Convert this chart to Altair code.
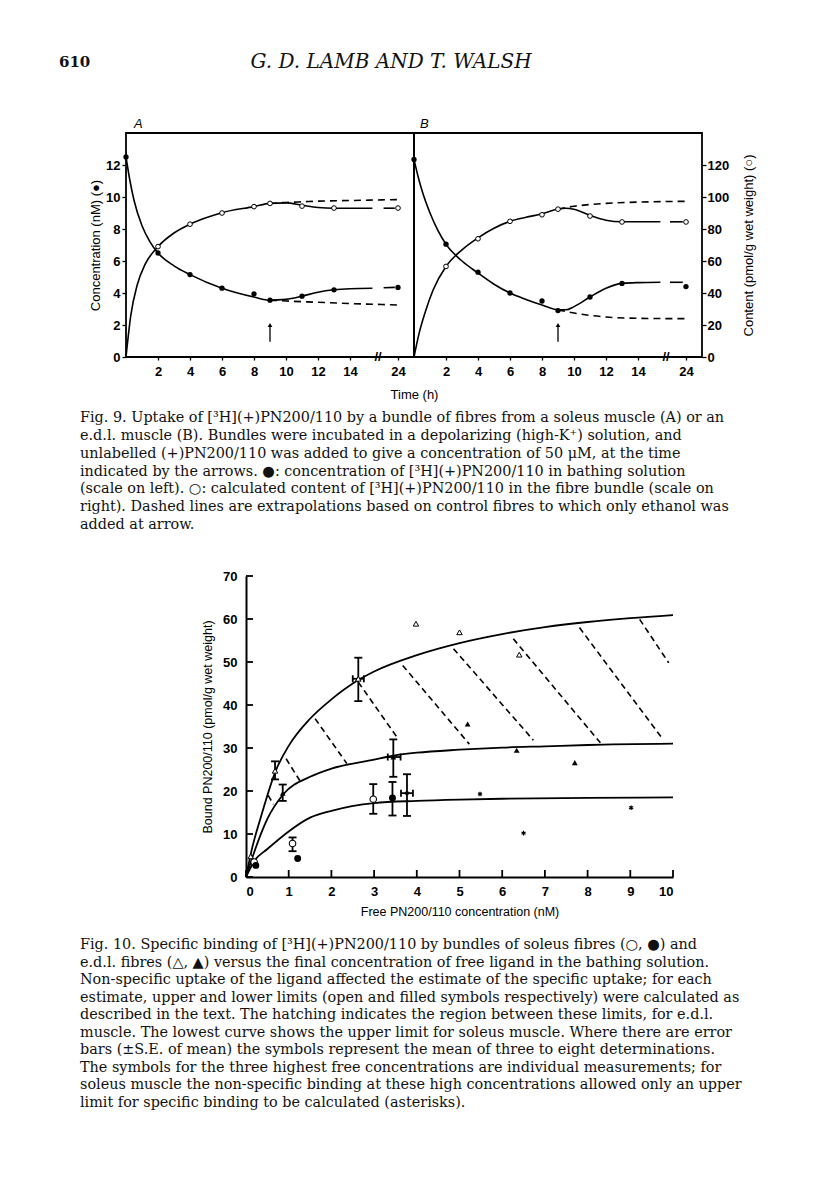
import altair as alt
import pandas as pd

SANS = "Liberation Sans"
SERIF = "DejaVu Serif"
INK = "#111111"

# ---------------- Fig. 9 data (time axis is broken: 24 h drawn at position 17) ----------------
POS_24 = 17
BREAK_POS = 15.75
T_FILLED = [0, 2, 4, 6, 8, 9, 11, 13, 24]
T_OPEN = [2, 4, 6, 8, 9, 11, 13, 24]
A_CONC = [12.5, 6.5, 5.15, 4.3, 3.95, 3.55, 3.8, 4.2, 4.35]      # nM (filled)
A_CONT = [69, 83, 90, 94, 96, 94.3, 93.1, 93.1]                 # pmol/g (open)
B_CONC = [12.35, 7.05, 5.3, 4.0, 3.5, 2.9, 3.75, 4.6, 4.4]
B_CONT = [56.6, 73.9, 84.8, 88.9, 92.4, 88.1, 84.4, 84.4]

# smooth curves (axis position, value)
A_CONC_CURVE_U = [0, 0.25, 0.5, 1, 1.5, 2, 3, 4, 6, 8, 9, 10, 11, 12, 13, 14, 15.4]
A_CONC_CURVE_V = [12.5, 11.0, 9.8, 8.2, 7.2, 6.5, 5.7, 5.15, 4.3, 3.75, 3.55, 3.6, 3.8, 4.05, 4.2, 4.27, 4.3]
A_CONC_TAIL_U = [16.1, 16.8]
A_CONC_TAIL_V = [4.33, 4.35]
A_CONT_CURVE_U = [0, 0.3, 0.7, 1.2, 2, 3, 4, 5, 6, 8, 9, 10, 11, 12, 13, 14, 15.4]
A_CONT_CURVE_V = [0, 26, 45, 58, 69, 77.5, 83, 87, 90.2, 94, 96, 96.3, 94.8, 93.4, 93, 93, 93]
A_CONT_TAIL_U = [16.1, 16.8]
A_CONT_TAIL_V = [93, 93]
A_CONC_DASH_U = [9, 10, 12, 14, 16, 17]
A_CONC_DASH_V = [3.55, 3.5, 3.42, 3.34, 3.28, 3.25]
A_CONT_DASH_U = [9, 10, 11, 12, 14, 16, 17]
A_CONT_DASH_V = [96, 96.6, 97, 97.4, 97.8, 98.2, 98.4]

B_CONC_CURVE_U = [0, 0.25, 0.5, 1, 1.5, 2, 3, 4, 5, 6, 7, 8, 9, 9.5, 10, 11, 12, 13, 14, 15.4]
B_CONC_CURVE_V = [12.35, 11.3, 10.4, 9.0, 7.9, 7.05, 6.0, 5.25, 4.55, 4.0, 3.6, 3.25, 2.95, 2.95, 3.15, 3.75, 4.3, 4.6, 4.65, 4.67]
B_CONC_TAIL_U = [16.0, 16.8]
B_CONC_TAIL_V = [4.67, 4.67]
B_CONT_CURVE_U = [0, 0.3, 0.7, 1.2, 2, 3, 4, 5, 6, 7, 8, 9, 9.5, 10, 11, 12, 13, 14, 15.4]
B_CONT_CURVE_V = [0, 14, 28, 42, 56.6, 67, 74.5, 80.5, 84.8, 87.3, 89.5, 92.5, 93, 92.3, 88.5, 85.5, 84.5, 84.5, 84.5]
B_CONT_TAIL_U = [16.0, 16.8]
B_CONT_TAIL_V = [84.5, 84.5]
B_CONC_DASH_U = [9, 10, 11, 12, 14, 16, 17]
B_CONC_DASH_V = [2.95, 2.75, 2.6, 2.5, 2.42, 2.4, 2.4]
B_CONT_DASH_U = [9, 10, 11, 12, 14, 16, 17]
B_CONT_DASH_V = [92.5, 94.2, 95.3, 96.0, 96.8, 97.2, 97.3]

ARROW_T = 9
ARROW_LO = 0.95
ARROW_HI = 2.0
TIME_TICKS = [2, 4, 6, 8, 10, 12, 14, 17]
CONC_TICKS = [0, 2, 4, 6, 8, 10, 12]
CONT_TICKS = [0, 20, 40, 60, 80, 100, 120]

# ---------------- Fig. 10 data ----------------
OPEN_TRI_X = [0.11, 0.68, 2.63, 3.98, 5.0, 6.4]
OPEN_TRI_Y = [4.8, 24.7, 46.1, 58.9, 56.9, 51.7]
FILL_TRI_X = [0.86, 3.45, 5.19, 6.34, 7.7]
FILL_TRI_Y = [19.5, 27.9, 35.6, 29.5, 26.6]
OPEN_CIR_X = [0.19, 1.09, 2.98]
OPEN_CIR_Y = [3.5, 7.8, 18.1]
FILL_CIR_X = [0.23, 1.21, 3.43]
FILL_CIR_Y = [2.7, 4.3, 18.4]
STAR_X = [3.77, 5.48, 6.5, 9.02]
STAR_Y = [19.5, 19.3, 10.2, 16.1]

VERR_X = [0.68, 2.63, 0.86, 3.45, 2.98, 1.09, 3.43, 3.77]
VERR_LO = [22.7, 40.9, 17.7, 23.3, 14.7, 6.0, 14.3, 14.2]
VERR_HI = [26.9, 51.0, 21.5, 32.0, 21.6, 9.2, 22.1, 23.9]
HERR_Y = [46.1, 27.9, 19.5]
HERR_LO = [2.5, 3.32, 3.63]
HERR_HI = [2.76, 3.62, 3.91]

UPPER_X = [0, 0.15, 0.35, 0.7, 1, 1.5, 2, 2.63, 3, 4, 5, 6, 7, 8, 9, 10]
UPPER_Y = [0, 7, 14, 24.8, 30.5, 36.8, 41.3, 45.8, 47.8, 51.6, 54.4, 56.5, 58.1, 59.3, 60.2, 60.9]
MIDDLE_X = [0, 0.2, 0.5, 0.88, 1.5, 2, 3, 3.45, 4, 5, 6, 7, 8, 10]
MIDDLE_Y = [0, 6, 13.5, 19.3, 23.3, 25.2, 27.3, 28.2, 28.9, 29.6, 30.1, 30.4, 30.7, 31.0]
LOWER_X = [0, 0.2, 0.5, 1, 1.5, 2, 3, 4, 5, 6, 8, 10]
LOWER_Y = [0, 3.8, 6.5, 10.6, 13.8, 15.4, 17.2, 17.7, 18.0, 18.2, 18.4, 18.5]

HATCH_X1 = [0.52, 0.94, 1.62, 2.63, 3.67, 4.86, 6.26, 7.81, 9.22]
HATCH_Y1 = [19.0, 27.5, 36.8, 45.3, 49.2, 53.1, 55.4, 58.0, 59.9]
HATCH_X2 = [0.64, 1.28, 2.36, 3.53, 5.23, 6.73, 8.30, 9.72, 9.90]
HATCH_Y2 = [16.9, 22.1, 26.4, 32.6, 30.9, 31.8, 31.2, 32.6, 49.8]

X10_TICKS = list(range(0, 11))
Y10_TICKS = list(range(0, 71, 10))

# ---------------- text ----------------
PAGE_NO = "610"
RUNNING_HEAD = "G. D. LAMB AND T. WALSH"
CAP9 = [
    "Fig. 9. Uptake of [³H](+)PN200/110 by a bundle of fibres from a soleus muscle (A) or an",
    "e.d.l. muscle (B). Bundles were incubated in a depolarizing (high-K⁺) solution, and",
    "unlabelled (+)PN200/110 was added to give a concentration of 50 μM, at the time",
    "indicated by the arrows. ●: concentration of [³H](+)PN200/110 in bathing solution",
    "(scale on left). ○: calculated content of [³H](+)PN200/110 in the fibre bundle (scale on",
    "right). Dashed lines are extrapolations based on control fibres to which only ethanol was",
    "added at arrow.",
]
CAP10 = [
    "Fig. 10. Specific binding of [³H](+)PN200/110 by bundles of soleus fibres (○, ●) and",
    "e.d.l. fibres (△, ▲) versus the final concentration of free ligand in the bathing solution.",
    "Non-specific uptake of the ligand affected the estimate of the specific uptake; for each",
    "estimate, upper and lower limits (open and filled symbols respectively) were calculated as",
    "described in the text. The hatching indicates the region between these limits, for e.d.l.",
    "muscle. The lowest curve shows the upper limit for soleus muscle. Where there are error",
    "bars (±S.E. of mean) the symbols represent the mean of three to eight determinations.",
    "The symbols for the three highest free concentrations are individual measurements; for",
    "soleus muscle the non-specific binding at these high concentrations allowed only an upper",
    "limit for specific binding to be calculated (asterisks).",
]

ROW_W = 800


def pos(t):
    return POS_24 if t == 24 else t


def ldf(us, vs, seg=0):
    return pd.DataFrame({"u": us, "v": vs, "seg": seg})


# ---------------- Fig. 9 row ----------------
PW, PH = 288, 224
A_X0 = 118
B_X0 = A_X0 + PW


def panel(letter, x0, conc, cont, conc_c, conc_t, cont_c, cont_t, conc_d, cont_d, left, right, xtitle):
    xs = alt.Scale(domain=[0, 18], nice=False, range=[x0, x0 + PW])
    xkw = dict(values=TIME_TICKS, labelExpr="datum.value == 17 ? '24' : datum.label",
               orient="bottom", ticks=True, tickSize=3, tickWidth=1.3, domain=False, grid=False,
               labelPadding=5, labelFontWeight="bold")
    if xtitle:
        xkw.update(title="Time (h)", titleX=x0 + PW, titleY=37, titleAlign="center",
                   titleBaseline="middle")
    else:
        xkw.update(title="")
    X = alt.X("u:Q", scale=xs, axis=alt.Axis(**xkw))
    X2 = alt.X2("u2:Q")

    cs = alt.Scale(domain=[0, 14], nice=False)
    if left:
        cax = alt.Axis(values=CONC_TICKS, orient="left", offset=-x0, tickSize=4, tickWidth=1.3,
                       labelPadding=2, labelFontWeight="bold",
                       domain=False, grid=False, title="Concentration (nM) (●)", titleX=-31,
                       titleY=PH / 2, titleAngle=270, titleAlign="center", titleBaseline="middle")
        YC = alt.Y("v:Q", scale=cs, axis=cax)
    else:
        YC = alt.Y("v:Q", scale=cs, axis=None)
    ks = alt.Scale(domain=[0, 140], nice=False)
    if right:
        kax = alt.Axis(values=CONT_TICKS, orient="right", offset=-(ROW_W - x0 - PW), tickSize=4,
                       tickWidth=1.3, labelPadding=1, labelFontWeight="bold", domain=False, grid=False,
                       title="Content (pmol/g wet weight) (○)", titleX=46, titleY=PH / 2,
                       titleAngle=270, titleAlign="center", titleBaseline="middle")
        YK = alt.Y("v:Q", scale=ks, axis=kax)
    else:
        YK = alt.Y("v:Q", scale=ks, axis=None)

    line = dict(color="black", strokeWidth=1.6, interpolate="monotone")
    dash = dict(color="black", strokeWidth=1.6, interpolate="monotone", strokeDash=[7, 5])

    conc_lines = pd.concat([ldf(*conc_c, 0), ldf(*conc_t, 1)])
    cont_lines = pd.concat([ldf(*cont_c, 0), ldf(*cont_t, 1)])

    conc_layer = alt.layer(
        alt.Chart(pd.DataFrame({"u": [0], "u2": [18], "v": [0], "v2": [14]})).mark_rect(
            fillOpacity=0, stroke="black", strokeWidth=1.8).encode(x=X, x2=X2, y=YC, y2="v2:Q"),
        alt.Chart(conc_lines).mark_line(**line).encode(x=X, y=YC, detail="seg:N"),
        alt.Chart(ldf(*conc_d)).mark_line(**dash).encode(x=X, y=YC),
        alt.Chart(pd.DataFrame({"u": [pos(t) for t in T_FILLED], "v": conc})).mark_circle(
            color="black", size=28, opacity=1).encode(x=X, y=YC),
        alt.Chart(pd.DataFrame({"u": [ARROW_T], "v": [ARROW_LO], "v2": [ARROW_HI]})).mark_rule(
            color="black", strokeWidth=1.3).encode(x=X, y=YC, y2="v2:Q"),
        alt.Chart(pd.DataFrame({"u": [ARROW_T], "v": [ARROW_HI]})).mark_point(
            shape="triangle-up", filled=True, color="black", size=22, opacity=1).encode(x=X, y=YC),
        alt.Chart(pd.DataFrame({"u": [BREAK_POS], "v": [0]})).mark_text(
            text="//", font=SANS, fontSize=13, fontWeight="bold", color="black").encode(x=X, y=YC),
        alt.Chart(pd.DataFrame({"u": [0], "t": [letter]})).mark_text(
            font=SANS, fontSize=13, fontStyle="italic", align="left", baseline="middle",
            dx=(8 if letter == "A" else 6), color="black").encode(text="t:N", x=X, y=alt.value(-9)),
    )
    cont_layer = alt.layer(
        alt.Chart(cont_lines).mark_line(**line).encode(x=X, y=YK, detail="seg:N"),
        alt.Chart(ldf(*cont_d)).mark_line(**dash).encode(x=X, y=YK),
        alt.Chart(pd.DataFrame({"u": [pos(t) for t in T_OPEN], "v": cont})).mark_point(
            shape="circle", filled=True, fill="white", stroke="black", strokeWidth=1,
            size=22, opacity=1).encode(x=X, y=YK),
    )
    return alt.layer(conc_layer, cont_layer).resolve_scale(y="independent")


panelA = panel("A", A_X0, A_CONC, A_CONT,
               (A_CONC_CURVE_U, A_CONC_CURVE_V), (A_CONC_TAIL_U, A_CONC_TAIL_V),
               (A_CONT_CURVE_U, A_CONT_CURVE_V), (A_CONT_TAIL_U, A_CONT_TAIL_V),
               (A_CONC_DASH_U, A_CONC_DASH_V), (A_CONT_DASH_U, A_CONT_DASH_V),
               left=True, right=False, xtitle=True)
panelB = panel("B", B_X0, B_CONC, B_CONT,
               (B_CONC_CURVE_U, B_CONC_CURVE_V), (B_CONC_TAIL_U, B_CONC_TAIL_V),
               (B_CONT_CURVE_U, B_CONT_CURVE_V), (B_CONT_TAIL_U, B_CONT_TAIL_V),
               (B_CONC_DASH_U, B_CONC_DASH_V), (B_CONT_DASH_U, B_CONT_DASH_V),
               left=False, right=True, xtitle=False)
row2 = alt.layer(panelA, panelB).resolve_scale(x="independent", y="independent").properties(
    width=ROW_W, height=PH)

# ---------------- Fig. 10 row ----------------
F_X0 = 238
FW, FH = 427, 301
xs10 = alt.Scale(domain=[0, 10], nice=False, range=[F_X0, F_X0 + FW])
ys10 = alt.Scale(domain=[0, 70], nice=False)
X10 = alt.X("x:Q", scale=xs10, axis=alt.Axis(
    values=X10_TICKS, orient="bottom", ticks=False, grid=False, domainWidth=2, domainColor="black",
    labelPadding=8, labelFontWeight="bold", title="Free PN200/110 concentration (nM)",
    titleX=F_X0 + FW / 2, titleY=34, titleAlign="center", titleBaseline="middle",
    titleFontSize=12.5))
Y10 = alt.Y("y:Q", scale=ys10, axis=alt.Axis(
    values=Y10_TICKS, orient="left", offset=-F_X0, ticks=False, grid=False, domainWidth=2,
    domainColor="black", labelPadding=9, labelFontWeight="bold",
    title="Bound PN200/110 (pmol/g wet weight)",
    titleX=-39, titleY=FH / 2, titleAngle=270, titleAlign="center", titleBaseline="middle",
    titleFontSize=12.5))

TICK_LEN_X = 7 / (FW / 10)   # inward tick length in data units
TICK_LEN_Y = 7 / (FH / 70)


def pts(xs, ys):
    return pd.DataFrame({"x": xs, "y": ys})


curves = pd.concat([
    pd.DataFrame({"x": UPPER_X, "y": UPPER_Y, "c": "upper"}),
    pd.DataFrame({"x": MIDDLE_X, "y": MIDDLE_Y, "c": "middle"}),
    pd.DataFrame({"x": LOWER_X, "y": LOWER_Y, "c": "lower"}),
])
hatch = pd.DataFrame({"x": HATCH_X1, "y": HATCH_Y1, "x2": HATCH_X2, "y2": HATCH_Y2})
verr = pd.DataFrame({"x": VERR_X, "y": VERR_LO, "y2": VERR_HI})
vcaps = pd.DataFrame({"x": VERR_X + VERR_X, "y": VERR_LO + VERR_HI})
herr = pd.DataFrame({"x": HERR_LO, "x2": HERR_HI, "y": HERR_Y})
hcaps = pd.DataFrame({"x": HERR_LO + HERR_HI, "y": HERR_Y + HERR_Y})
ytk = pd.DataFrame({"x": [0] * len(Y10_TICKS), "x2": [TICK_LEN_X] * len(Y10_TICKS), "y": Y10_TICKS})
xtk = pd.DataFrame({"x": X10_TICKS, "y": [0] * len(X10_TICKS), "y2": [TICK_LEN_Y] * len(X10_TICKS)})
STAR = "M0,-1L0,1M-0.87,-0.5L0.87,0.5M-0.87,0.5L0.87,-0.5"

row4 = alt.layer(
    alt.Chart(curves).mark_line(color="black", strokeWidth=1.8, interpolate="monotone").encode(
        x=X10, y=Y10, detail="c:N"),
    alt.Chart(hatch).mark_rule(color="black", strokeWidth=1.6, strokeDash=[6, 4]).encode(
        x=X10, y=Y10, x2="x2:Q", y2="y2:Q"),
    alt.Chart(verr).mark_rule(color="black", strokeWidth=1.8).encode(x=X10, y=Y10, y2="y2:Q"),
    alt.Chart(vcaps).mark_tick(orient="horizontal", color="black", size=8, thickness=1.8,
                               opacity=1).encode(x=X10, y=Y10),
    alt.Chart(herr).mark_rule(color="black", strokeWidth=1.8).encode(x=X10, x2="x2:Q", y=Y10),
    alt.Chart(hcaps).mark_tick(orient="vertical", color="black", size=7, thickness=1.8,
                               opacity=1).encode(x=X10, y=Y10),
    alt.Chart(pts(OPEN_TRI_X, OPEN_TRI_Y)).mark_point(
        shape="triangle-up", filled=True, fill="white", stroke="black", strokeWidth=1,
        size=30, opacity=1).encode(x=X10, y=Y10),
    alt.Chart(pts(FILL_TRI_X, FILL_TRI_Y)).mark_point(
        shape="triangle-up", filled=True, color="black", size=34, opacity=1).encode(x=X10, y=Y10),
    alt.Chart(pts(OPEN_CIR_X, OPEN_CIR_Y)).mark_point(
        shape="circle", filled=True, fill="white", stroke="black", strokeWidth=1.1,
        size=42, opacity=1).encode(x=X10, y=Y10),
    alt.Chart(pts(FILL_CIR_X, FILL_CIR_Y)).mark_circle(color="black", size=48, opacity=1).encode(
        x=X10, y=Y10),
    alt.Chart(pts(STAR_X, STAR_Y)).mark_point(
        shape=STAR, filled=False, stroke="black", strokeWidth=1.2, size=22, opacity=1).encode(
        x=X10, y=Y10),
    alt.Chart(ytk).mark_rule(color="black", strokeWidth=1.8).encode(x=X10, x2="x2:Q", y=Y10),
    alt.Chart(xtk).mark_rule(color="black", strokeWidth=1.8).encode(x=X10, y=Y10, y2="y2:Q"),
).properties(width=ROW_W, height=FH)


# ---------------- text rows ----------------
def text_block(lines, h, x0, y0, y1):
    df = pd.DataFrame({"i": list(range(len(lines))), "line": lines})
    n = len(lines) - 1
    return alt.Chart(df).mark_text(align="left", baseline="middle", font=SERIF, fontSize=14.4,
                                   color=INK).encode(
        x=alt.value(x0),
        y=alt.Y("i:Q", scale=alt.Scale(domain=[0, n], range=[y0, y1]), axis=None),
        text="line:N",
    ).properties(width=ROW_W, height=h)


header = alt.layer(
    alt.Chart(pd.DataFrame({"t": [PAGE_NO]})).mark_text(
        font=SERIF, fontSize=15, fontWeight="bold", align="left", baseline="middle", color=INK
    ).encode(text="t:N", x=alt.value(51), y=alt.value(54)),
    alt.Chart(pd.DataFrame({"t": [RUNNING_HEAD]})).mark_text(
        font=SERIF, fontSize=20, fontStyle="italic", align="center", baseline="middle", color=INK
    ).encode(text="t:N", x=alt.value(383), y=alt.value(54)),
).properties(width=ROW_W, height=125)

cap9 = text_block(CAP9, 219, 72, 61, 168)
cap10 = text_block(CAP10, 313, 72, 68, 226)

chart = alt.vconcat(header, row2, cap9, row4, cap10, spacing=0, bounds="flush").properties(
    padding=0
).configure_view(stroke=None).configure_axis(
    labelFont=SANS, titleFont=SANS, labelColor="black", titleColor="black", labelFontSize=13,
    titleFontSize=13, titleFontWeight="normal", tickColor="black", domainColor="black"
)

chart.save("out.html", embed_options={"renderer": "svg", "actions": False})
